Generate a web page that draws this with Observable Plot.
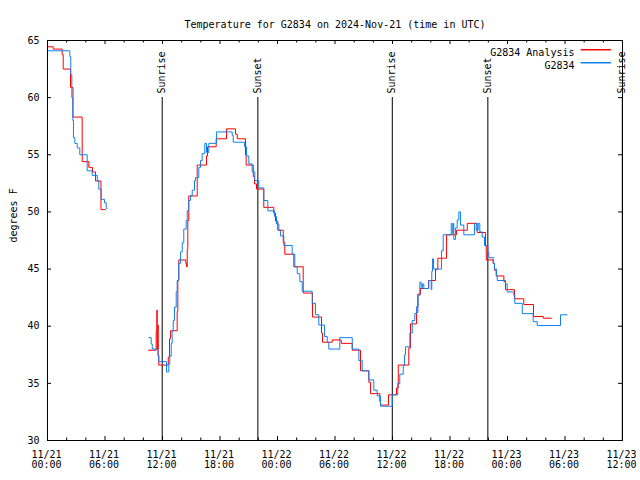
<!DOCTYPE html>
<html>
<head>
<meta charset="utf-8">
<script src="https://cdn.jsdelivr.net/npm/d3@7"></script>
<script src="https://cdn.jsdelivr.net/npm/@observablehq/plot@0.6"></script>
<style>
  html, body { margin: 0; padding: 0; background: #fff; }
</style>
</head>
<body>
<div id="chart"></div>
<script>
// ---- Data (hours since 2024-11-21 00:00 UTC; null = gap) ----
const titleText = "Temperature for G2834 on 2024-Nov-21 (time in UTC)";
const yLabel = "degrees F";
const seriesNames = ["G2834 Analysis", "G2834"];

const analysisHours = [0, 0.59, 1.53, 1.64, 2.40, 2.66, 3.62, 4.31, 4.70, 5.01, 5.58, 6.05, 8.0,
  10.54, 11.34, 11.41, 11.45, 11.51, 11.55, 11.61, 12.60, 12.73, 12.84, 13.53, 13.60, 13.70, 14.43, 14.50, 14.58, 14.64, 14.74,
  15.62, 16.59, 16.70, 17.60, 18.68, 19.62, 19.80, 20.66, 20.73, 21.47, 21.60, 21.81, 22.57, 23.61, 23.79, 24.03, 24.60, 24.76,
  25.70, 26.68, 27.65, 28.59, 28.70, 29.71, 30.65, 31.80, 32.66, 33.53, 33.71, 34.68, 34.75, 35.58, 36.42, 36.60, 37.70, 37.88,
  38.51, 38.64, 38.92, 39.76, 40.49, 40.73, 41.64, 42.68, 43.80, 44.84, 45.71, 45.78, 46.51, 46.64, 46.82, 47.62, 47.79, 48.73,
  49.70, 50.71, 51.73, 52.59];
const analysisTemps = [64.45, 64.25, 63.75, 62.5, 60.9, 58.3, 54.4, 53.9, 53.5, 52.7, 50.2, 50.2, null,
  37.9, 39.6, 41.4, 38.0, 40.1, 37.5, 36.6, 37.3, 38.9, 39.6, 41.3, 44.0, 45.8, 45.5, 45.2, 46.7, 49.25, 51.4,
  54.1, 54.9, 55.7, 56.4, 57.27, 56.8, 56.4, 55.0, 54.1, 53.1, 52.45, 52.0, 50.4, 49.9, 49.2, 48.4, 47.35, 46.3,
  45.2, 42.9, 40.8, 39.4, 38.6, 38.8, 38.5, 37.9, 36.1, 35.1, 34.1, 33.4, 33.1, 34.0, 34.6, 36.6, 38.1, 40.2,
  41.2, 42.8, 43.3, 44.0, 45.0, 45.95, 48.0, 48.4, 49.0, 48.2, 47.0, 45.8, 45.5, 44.9, 44.4, 43.9, 43.2, 42.4,
  41.9, 40.85, 40.7, 40.7];

const obsHours = [0, 2.33, 2.43, 2.54, 2.64, 2.71, 2.85, 3.10, 3.37, 4.14, 4.66, 5.19, 5.35, 5.60, 5.95, 6.13, 6.23, 8.0,
  10.57, 10.82, 10.93, 11.53, 11.61, 12.42, 12.66, 12.76, 12.91, 13.01, 13.12, 13.25, 13.43, 13.53, 13.70, 13.88, 14.06, 14.22,
  14.47, 14.58, 14.74, 14.92, 15.10, 15.34, 15.44, 15.79, 15.97, 16.14, 16.41, 16.59, 16.83, 17.64, 19.27, 19.38, 20.56, 20.77,
  21.01, 21.36, 21.63, 22.05, 22.57, 22.99, 23.69, 23.90, 24.14, 24.31, 24.66, 25.53, 25.81, 26.06, 26.33, 26.58, 27.62, 27.97,
  28.31, 28.91, 29.19, 29.35, 30.50, 31.80, 32.49, 32.84, 33.53, 34.05, 34.40, 34.75, 35.97, 36.55, 36.76, 37.12, 37.25, 37.36,
  37.81, 38.06, 38.33, 38.51, 38.68, 38.85, 39.00, 39.13, 39.27, 39.79, 40.04, 40.10, 40.18, 40.28, 41.11, 41.29, 42.13, 42.23,
  42.34, 42.40, 42.58, 42.75, 42.92, 43.10, 43.44, 44.56, 44.74, 44.94, 45.11, 45.36, 45.60, 45.95, 46.05, 46.51, 46.64, 46.85,
  46.93, 47.79, 47.97, 48.66, 48.76, 49.54, 50.68, 51.10, 53.53, 54.23];
const obsTemps = [64.1, 63.6, 62.0, 60.0, 58.0, 56.5, 56.0, 55.6, 55.0, 53.6, 53.2, 52.75, 52.0, 51.1, 50.8, 50.3, 50.3, null,
  39.0, 38.45, 38.0, 37.4, 36.9, 36.0, 36.7, 37.4, 38.5, 39.6, 40.5, 41.66, 43.0, 44.0, 45.5, 46.5, 47.3, 48.5,
  49.25, 50.1, 51.0, 51.4, 51.9, 52.75, 53.0, 53.9, 54.5, 55.1, 56.0, 55.2, 56.0, 57.0, 56.7, 56.1, 55.7, 54.9,
  54.2, 53.5, 52.75, 52.1, 51.0, 50.1, 49.6, 48.95, 48.4, 47.9, 47.06, 46.3, 45.2, 44.6, 43.9, 43.06, 42.0, 41.0,
  40.1, 39.1, 38.6, 38.0, 39.0, 38.0, 37.0, 36.1, 35.3, 34.4, 33.9, 33.0, 34.0, 35.0, 35.8, 36.6, 37.5, 38.2,
  39.4, 40.5, 41.1, 41.7, 42.7, 43.85, 43.4, 43.7, 43.3, 44.0, 43.2, 44.8, 45.9, 45.0, 46.6, 48.0, 49.0, 48.1,
  49.0, 47.6, 48.6, 49.3, 50.0, 48.85, 48.0, 49.0, 48.4, 49.0, 48.25, 47.8, 47.06, 46.5, 46.0, 45.5, 45.0, 44.4,
  44.0, 43.7, 43.0, 42.7, 42.0, 41.1, 40.4, 40.06, 41.0, 41.0];

const sunHours = [11.97, 21.95, 35.98, 45.95, 59.98];
const sunLabels = ["Sunrise", "Sunset", "Sunrise", "Sunset", "Sunrise"];

const majorTickHours = [0, 6, 12, 18, 24, 30, 36, 42, 48, 54, 60];
const minorTickHours = [2, 4, 8, 10, 14, 16, 20, 22, 26, 28, 32, 34, 38, 40, 44, 46, 50, 52, 56, 58];
const yTicks = [30, 35, 40, 45, 50, 55, 60, 65];
const xDomainHours = [0, 60];
const yDomain = [30, 65];

// ---- Build tables ----
const start = Date.UTC(2024, 10, 21);
const toDate = h => new Date(start + h * 3600000);
const analysis = analysisHours.map((h, i) => ({t: toDate(h), v: analysisTemps[i]}));
const obs = obsHours.map((h, i) => ({t: toDate(h), v: obsTemps[i]}));
const sun = sunHours.map((h, i) => ({t: toDate(h), label: sunLabels[i]}));
const majorDates = majorTickHours.map(toDate);
const minorDates = minorTickHours.map(toDate);

const RED = "#ff0000";
const BLUE = "#1080f0";
const lineShape = {draw(context, l) { context.moveTo(0, 0); context.lineTo(0, -l); }};

const plot = Plot.plot({
  width: 640,
  height: 480,
  marginLeft: 47,
  marginRight: 18,
  marginTop: 40,
  marginBottom: 40,
  style: {fontFamily: "'DejaVu Sans Mono', monospace", fontSize: "10px", background: "#fff", color: "#000", overflow: "visible"},
  x: {type: "utc", domain: xDomainHours.map(toDate)},
  y: {domain: yDomain},
  marks: [
    // inward ticks
    Plot.tickX(majorDates, {x: d => d, insetTop: 396, stroke: "#000"}),
    Plot.tickX(majorDates, {x: d => d, insetBottom: 396, stroke: "#000"}),
    Plot.tickX(minorDates, {x: d => d, insetTop: 397.5, stroke: "#000"}),
    Plot.tickX(minorDates, {x: d => d, insetBottom: 397.5, stroke: "#000"}),
    Plot.tickY(yTicks, {y: d => d, insetRight: 571, stroke: "#000"}),
    Plot.tickY(yTicks, {y: d => d, insetLeft: 571, stroke: "#000"}),
    // axes labels
    Plot.axisX({ticks: majorDates, tickSize: 0, tickPadding: 10, dx: -1, tickFormat: d3.utcFormat("%m/%d\n%H:%M"), label: null, fontSize: 10, fill: "#000"}),
    Plot.axisY({ticks: yTicks, tickSize: 0, tickPadding: 8, label: null, fontSize: 10, fill: "#000"}),
    // sunrise / sunset
    Plot.ruleX(sun, {x: "t", insetTop: 57, stroke: "#000"}),
    Plot.text(sun, {x: "t", text: "label", frameAnchor: "top", dy: 53, dx: -4, rotate: -90, textAnchor: "start", fill: "#000", fontSize: 10}),
    // series
    Plot.line(analysis, {x: "t", y: "v", curve: "step-after", stroke: RED, strokeWidth: 1}),
    Plot.line(obs, {x: "t", y: "v", curve: "step-after", stroke: BLUE, strokeWidth: 1}),
    Plot.frame({stroke: "#000"}),
    // title & y label
    Plot.text([titleText], {frameAnchor: "top", dy: -20, fill: "#000", fontSize: 10}),
    Plot.text([yLabel], {frameAnchor: "left", dx: -34, rotate: -90, dy: 2, fill: "#000", fontSize: 10}),
    // legend
    Plot.text([seriesNames[0]], {frameAnchor: "top-right", dx: -48, dy: 8.3, textAnchor: "end", fill: "#000", fontSize: 10}),
    Plot.text([seriesNames[1]], {frameAnchor: "top-right", dx: -48, dy: 21.3, textAnchor: "end", fill: "#000", fontSize: 10}),
    Plot.vector([0], {frameAnchor: "top-right", dx: -41.3, dy: 9.3, length: 29.3, rotate: 90, anchor: "start", shape: lineShape, stroke: RED}),
    Plot.vector([0], {frameAnchor: "top-right", dx: -41.3, dy: 22.3, length: 29.3, rotate: 90, anchor: "start", shape: lineShape, stroke: BLUE})
  ]
});
document.getElementById("chart").appendChild(plot);
</script>
</body>
</html>
